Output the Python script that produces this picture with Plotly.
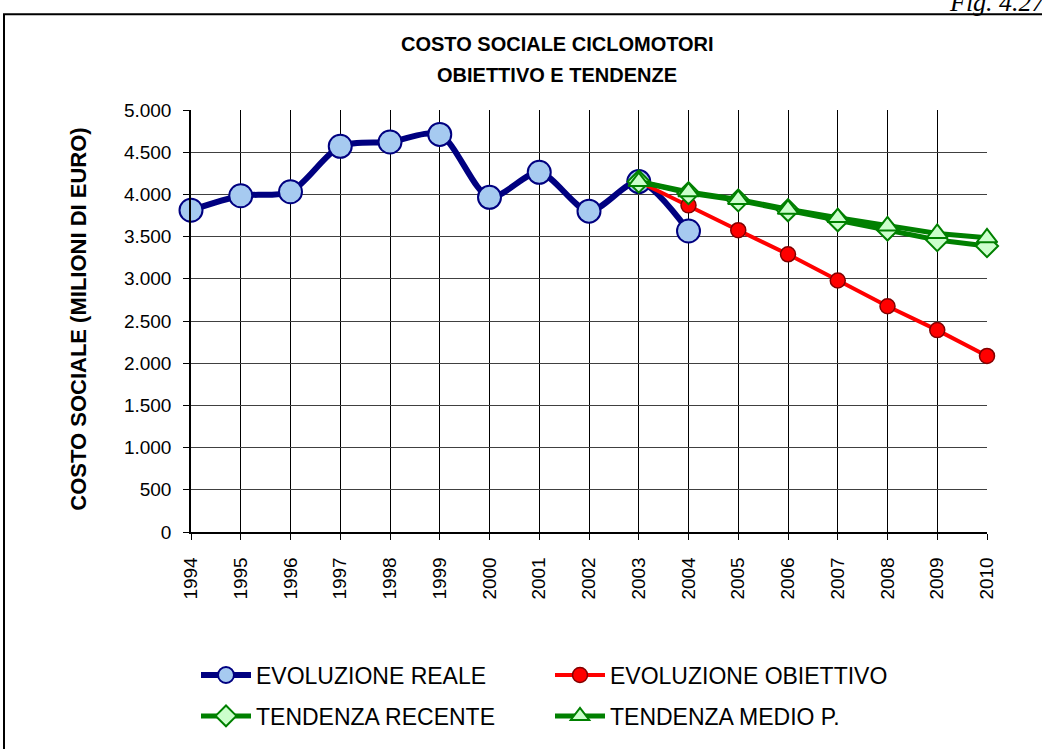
import plotly.graph_objects as go

# ---- data ----
years_real = [1994, 1995, 1996, 1997, 1998, 1999, 2000, 2001, 2002, 2003, 2004]
evoluzione_reale = [3812, 3984, 4031, 4570, 4621, 4711, 3965, 4262, 3801, 4152, 3566]

years_proj = [2003, 2004, 2005, 2006, 2007, 2008, 2009, 2010]
evoluzione_obiettivo = [4152, 3870, 3576, 3290, 2980, 2675, 2392, 2086]
tendenza_recente = [4152, 4015, 3929, 3812, 3694, 3584, 3459, 3388]
tendenza_medio = [4152, 4030, 3941, 3824, 3725, 3627, 3537, 3486]

all_years = list(range(1994, 2011))
y_ticks = [0, 500, 1000, 1500, 2000, 2500, 3000, 3500, 4000, 4500, 5000]

title_line1 = "COSTO SOCIALE CICLOMOTORI"
title_line2 = "OBIETTIVO E TENDENZE"
y_title = "COSTO SOCIALE (MILIONI DI EURO)"
fig_label = "Fig. 4.27"

# ---- layout geometry (pixels) ----
W, H = 1042, 749
L, R, T, B = 191, 55, 110, 212
PW, PH = W - L - R, H - T - B

def px(x):
    return (x - L) / PW

def py(y):
    return (H - B - y) / PH

FONT = "Liberation Sans, Arial, sans-serif"

fig = go.Figure()

fig.add_trace(go.Scatter(
    x=years_real, y=evoluzione_reale, name="EVOLUZIONE REALE",
    mode="lines+markers", cliponaxis=False, legend="legend", legendgroup="a",
    line=dict(color="#000080", width=6, shape="spline", smoothing=0.8),
    marker=dict(symbol="circle", size=23, color="#A6CAF0",
                line=dict(color="#000080", width=2)),
))
fig.add_trace(go.Scatter(
    x=years_proj, y=evoluzione_obiettivo, name="EVOLUZIONE OBIETTIVO",
    mode="lines+markers", cliponaxis=False, legend="legend2", legendgroup="b",
    line=dict(color="#FF0000", width=4),
    marker=dict(symbol="circle", size=15, color="#FF0000",
                line=dict(color="#800000", width=1.5)),
))
fig.add_trace(go.Scatter(
    x=years_proj, y=tendenza_recente, name="TENDENZA RECENTE",
    mode="lines+markers", cliponaxis=False, legend="legend", legendgroup="c",
    line=dict(color="#008000", width=5),
    marker=dict(symbol="diamond", size=17, color="#CCFFCC",
                line=dict(color="#008000", width=2)),
))
fig.add_trace(go.Scatter(
    x=years_proj, y=tendenza_medio, name="TENDENZA MEDIO P.",
    mode="lines+markers", cliponaxis=False, legend="legend2", legendgroup="d",
    line=dict(color="#008000", width=5),
    marker=dict(symbol="triangle-up", size=18, color="#CCFFCC",
                line=dict(color="#008000", width=2)),
))

legend_common = dict(
    font=dict(family=FONT, size=23, color="black"),
    bgcolor="rgba(0,0,0,0)", tracegroupgap=8, itemwidth=50,
    xanchor="left", yanchor="top", orientation="v",
)

fig.update_layout(
    width=W, height=H,
    margin=dict(l=L, r=R, t=T, b=B),
    paper_bgcolor="white", plot_bgcolor="white",
    separators=",.",
    showlegend=True,
    legend=dict(x=px(196), y=py(660), **legend_common),
    legend2=dict(x=px(550), y=py(660), **legend_common),
    xaxis=dict(
        range=[1994, 2010], tickmode="array", tickvals=all_years,
        ticktext=[str(y) for y in all_years], tickangle=-90,
        showgrid=True, gridcolor="black", gridwidth=1,
        showline=True, linecolor="black", linewidth=1.5,
        ticks="outside", ticklen=6, tickcolor="black",
        tickfont=dict(family=FONT, size=19, color="black"),
        zeroline=False, ticklabelstandoff=10,
    ),
    yaxis=dict(
        range=[0, 5000], tickmode="array", tickvals=y_ticks,
        tickformat=",d", separatethousands=True,
        showgrid=True, gridcolor="#404040", gridwidth=1,
        showline=True, linecolor="black", linewidth=1.5,
        ticks="outside", ticklen=6, tickcolor="black",
        tickfont=dict(family=FONT, size=19, color="black"),
        zeroline=False, ticklabelstandoff=8,
    ),
)

# titles as annotations
fig.add_annotation(text=title_line1, xref="paper", yref="paper",
                   x=px(557), y=py(43), xanchor="center", yanchor="middle",
                   showarrow=False,
                   font=dict(family=FONT, size=20, color="black", weight=700))
fig.add_annotation(text=title_line2, xref="paper", yref="paper",
                   x=px(557), y=py(75), xanchor="center", yanchor="middle",
                   showarrow=False,
                   font=dict(family=FONT, size=20, color="black", weight=700))
fig.add_annotation(text=y_title, xref="paper", yref="paper",
                   x=px(79), y=py(518), xanchor="center", yanchor="bottom",
                   textangle=-90, showarrow=False,
                   font=dict(family=FONT, size=22, color="black", weight=700))
fig.add_annotation(text="<i>" + fig_label + "</i>", xref="paper", yref="paper",
                   x=px(1048), y=py(18), xanchor="right", yanchor="bottom",
                   showarrow=False,
                   font=dict(family="Liberation Serif, Times New Roman, serif",
                             size=26, color="black"))

# outer frame
fig.add_shape(type="rect", xref="paper", yref="paper",
              x0=px(4), y0=py(790), x1=px(1090), y1=py(13),
              line=dict(color="black", width=2), layer="above")

fig.write_html(
    "out.html",
    config={"displayModeBar": False},
    post_script="document.body.style.margin='0';document.body.style.overflow='hidden';",
)
